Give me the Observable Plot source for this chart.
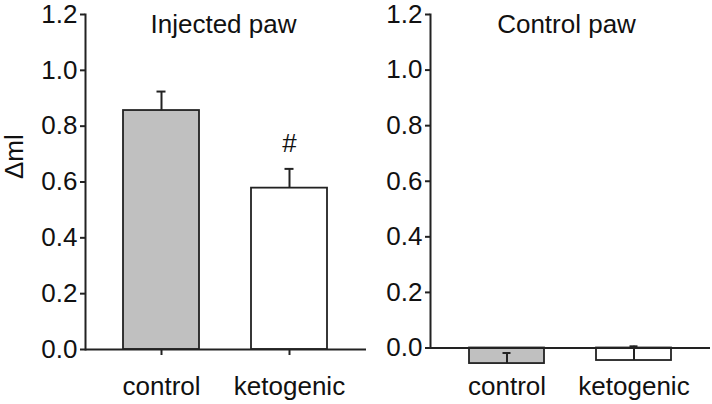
<!DOCTYPE html>
<html>
<head>
<meta charset="utf-8">
<script src="https://cdn.jsdelivr.net/npm/d3@7"></script>
<script src="https://cdn.jsdelivr.net/npm/@observablehq/plot@0.6"></script>
<style>
  html, body { margin: 0; padding: 0; background: #fff; }
  #wrap { display: flex; width: 712px; height: 404px; }
  svg { font-family: "Liberation Sans", Arial, sans-serif; }
</style>
</head>
<body>
<div id="wrap"></div>
<script>
const groups = ["control", "ketogenic"];
const fills = ["#c0c0c0", "#ffffff"];
const injectedMean = [0.856, 0.578];
const injectedSem = [0.068, 0.069];
const injectedSig = ["", "#"];
const controlMean = [-0.056, -0.045];
const controlSem = [0.038, 0.051];
const yTicks = [0, 0.2, 0.4, 0.6, 0.8, 1.0, 1.2];

function panel({title, means, sems, sig, width, marginLeft, marginRight, marginTop, marginBottom, showYLabel, titleDx, xTicks}) {
  const data = groups.map((g, i) => ({group: g, mean: means[i], sem: sems[i], fill: fills[i], sig: sig ? sig[i] : ""}));
  const ink = "#222";
  const fs = 26;
  const marks = [
    Plot.barY(data, {x: "group", y: "mean", fill: "fill", stroke: ink, strokeWidth: 1.8}),
    Plot.ruleX(data, {x: "group", y1: "mean", y2: d => d.mean + d.sem, stroke: ink, strokeWidth: 2}),
    Plot.tickY(data, {x: "group", y: d => d.mean + d.sem, stroke: ink, strokeWidth: 2, insetLeft: 33.5, insetRight: 33.5}),
    Plot.ruleY([0], {stroke: ink, strokeWidth: 2}),
    Plot.frame({anchor: "left", stroke: ink, strokeWidth: 2}),
    Plot.axisY({ticks: yTicks, tickFormat: d3.format(".1f"), tickSize: 5, tickPadding: 3, fontSize: fs, fontVariant: "normal", label: null, stroke: ink, strokeWidth: 2, color: "#111"}),
    Plot.axisX({tickSize: xTicks ? 6 : 0, tickPadding: xTicks ? 21.5 : 29, fontSize: fs, label: null, stroke: ink, strokeWidth: 2, color: "#111"}),
    Plot.text([title], {frameAnchor: "top", dx: titleDx, fontSize: fs, fill: "#111"})
  ];
  if (sig) {
    marks.push(Plot.text(data, {x: "group", y: d => d.mean + d.sem, text: "sig", dy: -25, fontSize: fs, fill: "#111"}));
  }
  if (showYLabel) {
    marks.push(Plot.text(["Δml"], {frameAnchor: "left", dx: -71, dy: -3, rotate: -90, fontSize: fs, fill: "#111"}));
  }
  return Plot.plot({
    width, height: 404,
    marginLeft, marginRight, marginTop, marginBottom,
    style: {fontFamily: "Liberation Sans, Arial, sans-serif", fontSize: "26px", background: "#fff", overflow: "visible"},
    x: {type: "band", domain: groups, paddingInner: 0.406, paddingOuter: 0.3, axis: null},
    y: {domain: [0, 1.2], axis: null},
    marks
  });
}

const wrap = document.getElementById("wrap");
wrap.appendChild(panel({title: "Injected paw", means: injectedMean, sems: injectedSem, sig: injectedSig,
  width: 366, marginLeft: 85, marginRight: 0, marginTop: 14, marginBottom: 55, showYLabel: true, titleDx: -2.5, xTicks: true}));
wrap.appendChild(panel({title: "Control paw", means: controlMean, sems: controlSem, sig: null,
  width: 346, marginLeft: 64, marginRight: 2, marginTop: 14, marginBottom: 56.5, showYLabel: false, titleDx: -4, xTicks: false}));
</script>
</body>
</html>
